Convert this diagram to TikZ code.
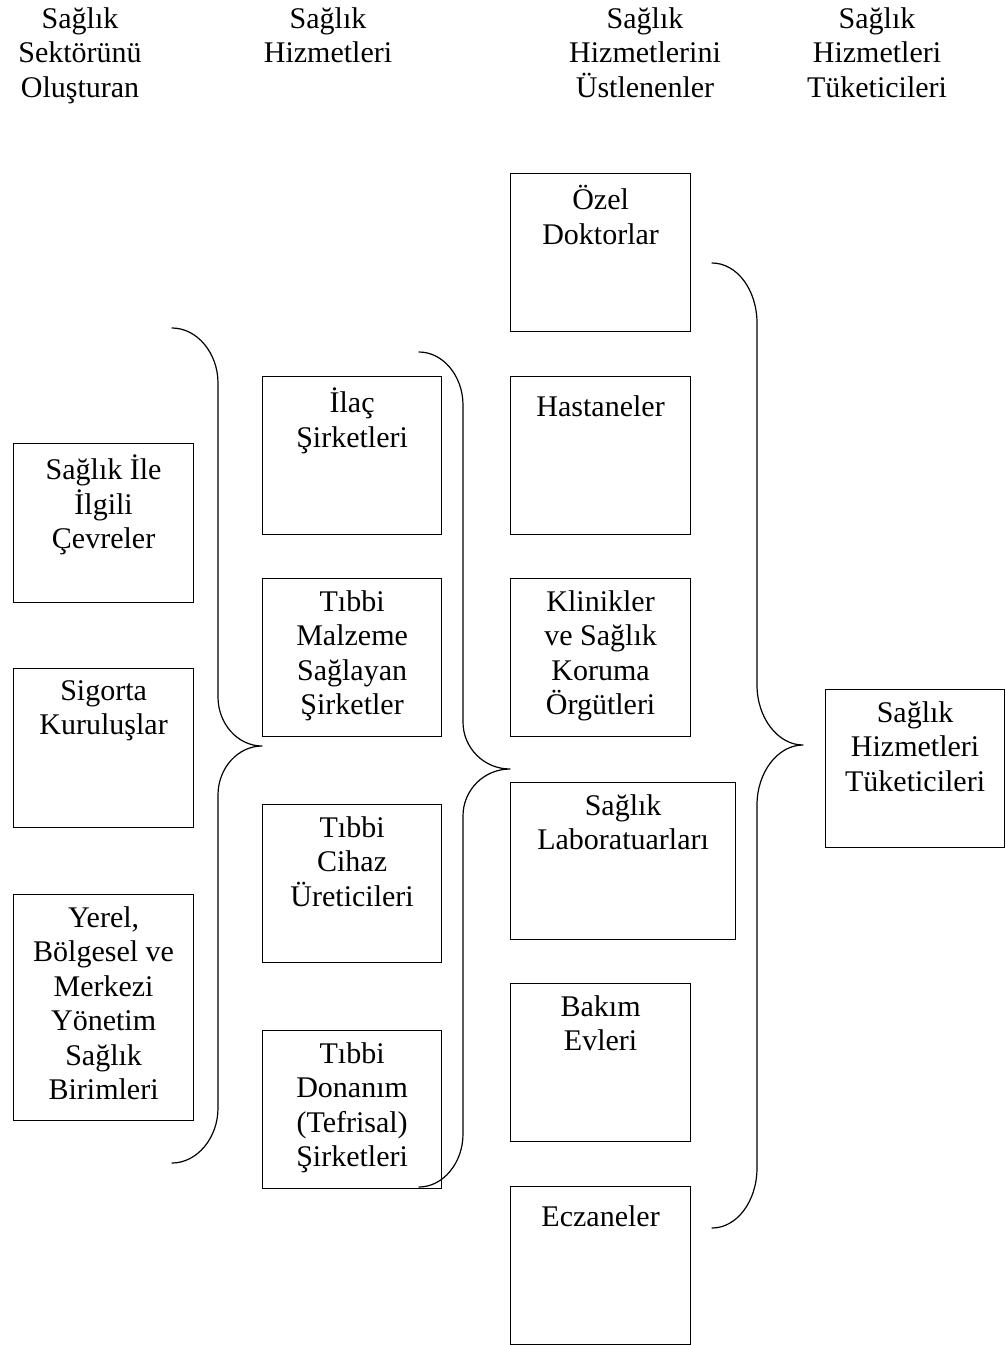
\documentclass[tikz,border=0pt]{standalone}
\usepackage{fontspec}
\setmainfont{Liberation Serif}
\begin{document}
\begin{tikzpicture}[x=1pt,y=-1pt,
  box/.style={draw, line width=1.2pt, rectangle, inner sep=0pt, anchor=north west},
  colbox/.style={box, minimum width=180pt, minimum height=158pt},
  boxtext/.style={anchor=north, align=center, inner sep=0pt,
    font=\fontsize{30}{34.5}\selectfont,
    execute at begin node={\rule{0pt}{28pt}}},
  brace/.style={line width=1.2pt, line join=round, line cap=round}]
\useasboundingbox (0,0) rectangle (1005,1345);

% column headings
\node[boxtext] (h1) at (80,7)  {Sağlık\\Sektörünü\\Oluşturan};
\node[boxtext] (h2) at (328,7) {Sağlık\\Hizmetleri};
\node[boxtext] (h3) at (645,7) {Sağlık\\Hizmetlerini\\Üstlenenler};
\node[boxtext] (h4) at (877,7) {Sağlık\\Hizmetleri\\Tüketicileri};

% first column
\node[colbox, minimum height=159pt] (cevre) at (13,443) {};
\node[boxtext] (cevre-t) at ([yshift=-12pt]cevre.north) {Sağlık İle\\İlgili\\Çevreler};
\node[colbox, minimum height=159pt] (sigorta) at (13,668) {};
\node[boxtext] (sigorta-t) at ([yshift=-12pt]sigorta.north) {Sigorta\\Kuruluşlar};
\node[colbox, minimum height=226pt] (yonetim) at (13,894) {};
\node[boxtext] (yonetim-t) at ([yshift=-12pt]yonetim.north) {Yerel,\\Bölgesel ve\\Merkezi\\Yönetim\\Sağlık\\Birimleri};

% second column
\node[colbox, minimum width=179pt] (ilac) at (262,376) {};
\node[boxtext] (ilac-t) at ([yshift=-12pt]ilac.north) {İlaç\\Şirketleri};
\node[colbox, minimum width=179pt] (malzeme) at (262,578) {};
\node[boxtext] (malzeme-t) at ([yshift=-12pt]malzeme.north) {Tıbbi\\Malzeme\\Sağlayan\\Şirketler};
\node[colbox, minimum width=179pt] (cihaz) at (262,804) {};
\node[boxtext] (cihaz-t) at ([yshift=-12pt]cihaz.north) {Tıbbi\\Cihaz\\Üreticileri};
\node[colbox, minimum width=179pt] (donanim) at (262,1030) {};
\node[boxtext] (donanim-t) at ([yshift=-12pt]donanim.north) {Tıbbi\\Donanım\\(Tefrisal)\\Şirketleri};

% third column
\node[colbox] (ozel) at (510,173) {};
\node[boxtext] (ozel-t) at ([yshift=-12pt]ozel.north) {Özel\\Doktorlar};
\node[colbox] (hastane) at (510,376) {};
\node[boxtext] (hastane-t) at ([yshift=-12pt]hastane.north) {Hastaneler};
\node[colbox] (klinik) at (510,578) {};
\node[boxtext] (klinik-t) at ([yshift=-12pt]klinik.north) {Klinikler\\ve Sağlık\\Koruma\\Örgütleri};
\node[colbox, minimum width=225pt, minimum height=157pt] (lab) at (510,782) {};
\node[boxtext] (lab-t) at ([yshift=-12pt]lab.north) {Sağlık\\Laboratuarları};
\node[colbox] (bakim) at (510,983) {};
\node[boxtext] (bakim-t) at ([yshift=-12pt]bakim.north) {Bakım\\Evleri};
\node[colbox] (eczane) at (510,1186) {};
\node[boxtext] (eczane-t) at ([yshift=-12pt]eczane.north) {Eczaneler};

% consumers
\node[colbox, minimum width=179pt] (tuketici) at (825,689) {};
\node[boxtext] (tuketici-t) at ([yshift=-12pt]tuketici.north) {Sağlık\\Hizmetleri\\Tüketicileri};

% braces
\draw[brace] (172,328) .. controls (197,328) and (218,353) .. (218,383)
  -- (218,697) .. controls (218,724) and (238,746) .. (262,746)
  .. controls (238,746) and (218,768) .. (218,795)
  -- (218,1108) .. controls (218,1138) and (197,1163) .. (172,1163);

\draw[brace] (419,352) .. controls (443,352) and (463,376) .. (463,405)
  -- (463,722) .. controls (463,748) and (484,769) .. (510,769)
  .. controls (484,769) and (463,790) .. (463,816)
  -- (463,1134) .. controls (463,1163) and (443,1187) .. (419,1187);

\draw[brace] (712,263) .. controls (737,263) and (757,290) .. (757,323)
  -- (757,685) .. controls (757,718) and (778,745) .. (803,745)
  .. controls (778,745) and (757,772) .. (757,805)
  -- (757,1168) .. controls (757,1201) and (737,1228) .. (712,1228);
\end{tikzpicture}
\end{document}
